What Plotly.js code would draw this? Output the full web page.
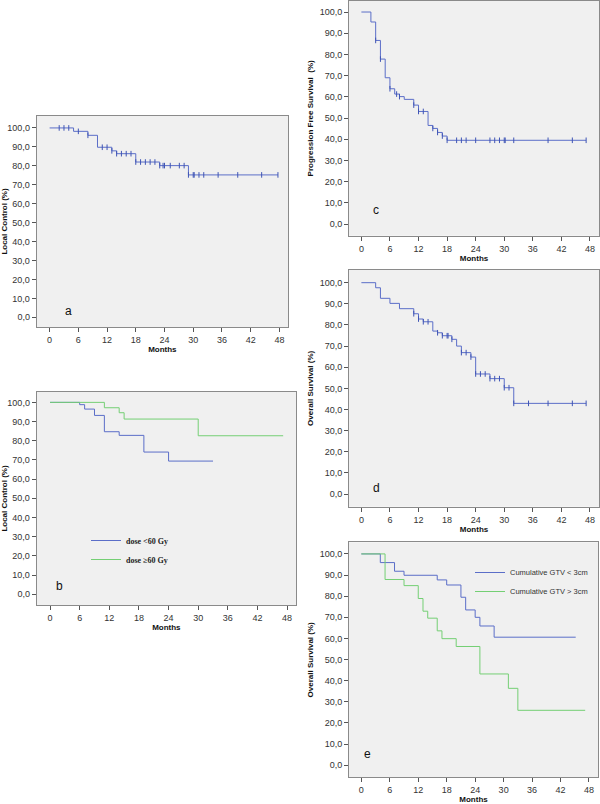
<!DOCTYPE html>
<html>
<head>
<meta charset="utf-8">
<script src="https://cdn.plot.ly/plotly-3.0.1.min.js"></script>
<style>html,body{margin:0;padding:0;background:#fff;overflow:hidden;}#chart{width:600px;height:804px;}</style>
</head>
<body>
<div id="chart"></div>
<script>
// ---- Data ----
var monthTicks = [0, 6, 12, 18, 24, 30, 36, 42, 48];
var pctTicks = [0, 10, 20, 30, 40, 50, 60, 70, 80, 90, 100];

// Panel a: Local control
var aTimes = [0, 5, 8, 10, 13, 14, 18, 23, 29, 47.7];
var aSurv  = [100, 98.2, 96.1, 89.8, 87.9, 86.4, 82.0, 80.1, 75.2, 75.2];
var aCens  = [2, 3, 4, 6, 8, 11, 12, 13, 14, 15, 16, 17, 18, 19, 20, 21, 22, 23, 23.7, 24, 25.2, 27.1, 28.1, 29, 30, 30.2, 31.2, 32.2, 35.2, 39.3, 44.3, 47.7];

// Panel b: Local control by dose
var bLowTimes  = [0, 6, 7, 9, 11, 14, 19, 24, 33];
var bLowSurv   = [100, 98.8, 96.5, 93.2, 84.7, 82.8, 74.1, 69.4, 69.4];
var bHighTimes = [0, 11, 14, 15, 30, 47.2];
var bHighSurv  = [100, 97.2, 94.6, 91.3, 82.6, 82.6];

// Panel c: Progression free survival
var cTimes = [0, 2, 3, 4, 5, 6, 7, 8, 9, 11, 12, 14, 15, 16, 17, 18, 47.2];
var cSurv  = [100, 95.3, 86.6, 77.8, 69.0, 63.8, 61.3, 60.1, 58.8, 56.1, 53.1, 46.5, 45.1, 43.2, 41.5, 39.5, 39.5];
var cCens  = [3, 4, 6, 7.4, 8, 11, 12, 13, 15, 16, 17, 18, 20, 21, 22, 24, 27, 28, 29, 30, 30.2, 32, 39.2, 44.3, 47.2];

// Panel d: Overall survival
var dTimes = [0, 3, 4, 6, 8, 11, 12, 13, 15, 16, 17, 19, 20, 21, 23, 24, 27, 30, 32, 47.2];
var dSurv  = [100, 97.6, 92.6, 90.2, 87.7, 85.3, 82.8, 81.5, 77.1, 76.3, 74.9, 73.2, 70.0, 66.9, 64.8, 56.8, 54.6, 50.3, 42.9, 42.9];
var dCens  = [11, 12, 13, 14, 16, 17, 18, 18.2, 19, 21, 22, 23, 24, 25, 26, 27, 28, 29, 30, 31, 32, 35.1, 39.2, 44.3, 47.2];

// Panel e: Overall survival by cumulative GTV
var eLowTimes  = [0, 4, 7, 9, 16, 18, 21, 22, 24, 25, 28, 45.2];
var eLowSurv   = [100, 95.9, 91.8, 89.9, 87.7, 85.3, 79.5, 73.5, 70.0, 65.9, 60.6, 60.6];
var eHighTimes = [0, 5, 9, 12, 13, 14, 16, 17, 20, 25, 31, 33, 47.2];
var eHighSurv  = [100, 87.9, 85.0, 78.9, 72.9, 69.6, 63.6, 59.9, 56.2, 43.2, 36.4, 26.0, 26.0];

var seriesNames = {
  bLow: 'dose <60 Gy', bHigh: 'dose \u226560 Gy',
  eLow: 'Cumulative GTV < 3cm', eHigh: 'Cumulative GTV > 3cm'
};

// ---- Styling ----
var BLUE = '#5b6ec8', BLUE_DARK = '#3f55b5', GREEN = '#74cf74';
var tickFont = {family: 'Liberation Sans Narrow, Arial Narrow, Liberation Sans, Arial', size: 9, color: '#333'};
var titleFont = {family: 'Liberation Sans, Arial', size: 8, color: '#111', weight: 'bold'};

function stepAt(times, surv, t) {
  var v = surv[0];
  for (var i = 0; i < times.length; i++) { if (times[i] <= t) v = surv[i]; }
  return v;
}
function stepTrace(times, surv, color, xa, ya, name, legend) {
  var tr = {x: times, y: surv, type: 'scatter', mode: 'lines', line: {shape: 'hv', color: color, width: 1},
            xaxis: xa, yaxis: ya, hoverinfo: 'skip', showlegend: !!name};
  if (name) { tr.name = name; tr.legend = legend; }
  return tr;
}
function censTrace(times, surv, cens, xa, ya) {
  return {x: cens, y: cens.map(function (t) { return stepAt(times, surv, t); }), type: 'scatter', mode: 'markers',
          marker: {symbol: 'line-ns', size: 4, color: BLUE_DARK, line: {color: BLUE_DARK, width: 1}},
          xaxis: xa, yaxis: ya, hoverinfo: 'skip', showlegend: false};
}

var data = [
  stepTrace(aTimes, aSurv, BLUE, 'x', 'y'), censTrace(aTimes, aSurv, aCens, 'x', 'y'),
  stepTrace(bLowTimes, bLowSurv, BLUE, 'x2', 'y2', seriesNames.bLow, 'legend'),
  stepTrace(bHighTimes, bHighSurv, GREEN, 'x2', 'y2', seriesNames.bHigh, 'legend'),
  stepTrace(cTimes, cSurv, BLUE, 'x3', 'y3'), censTrace(cTimes, cSurv, cCens, 'x3', 'y3'),
  stepTrace(dTimes, dSurv, BLUE, 'x4', 'y4'), censTrace(dTimes, dSurv, dCens, 'x4', 'y4'),
  stepTrace(eLowTimes, eLowSurv, BLUE, 'x5', 'y5', seriesNames.eLow, 'legend2'),
  stepTrace(eHighTimes, eHighSurv, GREEN, 'x5', 'y5', seriesNames.eHigh, 'legend2')
];

function xAxis(domain, range, anchor) {
  return {domain: domain, range: range, anchor: anchor, tickvals: monthTicks, ticks: 'outside', ticklen: 4,
          tickcolor: '#555', tickfont: tickFont, showline: true, mirror: true, linecolor: '#8a8a8a', linewidth: 1,
          showgrid: false, zeroline: false, fixedrange: true,
          title: {text: 'Months', font: titleFont, standoff: 2}};
}
function yAxis(domain, range, anchor, title) {
  return {domain: domain, range: range, anchor: anchor, tickvals: pctTicks, tickformat: '.1f', ticks: 'outside', ticklen: 4,
          tickcolor: '#555', tickfont: tickFont, showline: true, mirror: true, linecolor: '#8a8a8a', linewidth: 1,
          showgrid: false, zeroline: false, fixedrange: true,
          title: {text: title, font: titleFont, standoff: 4}};
}

var W = 600, H = 804;
function dx(a, b) { return [a / W, b / W]; }
function dy(top, bottom) { return [1 - bottom / H, 1 - top / H]; }

var labelFont = {family: 'Liberation Sans, Arial', size: 12, color: '#111'};
var layout = {
  width: W, height: H, margin: {l: 0, r: 0, t: 0, b: 0},
  paper_bgcolor: '#ffffff', plot_bgcolor: '#f0f0f0',
  separators: ',.',
  font: {family: 'Liberation Sans, Arial', color: '#333'},
  xaxis:  xAxis(dx(36.7, 288), [-2.7, 49.8], 'y'),
  yaxis:  yAxis(dy(116, 327), [-5.1, 106.3], 'x', 'Local Control (%)'),
  xaxis2: xAxis(dx(36.7, 296), [-2.7, 49.8], 'y2'),
  yaxis2: yAxis(dy(392, 605), [-5.6, 105.4], 'x2', 'Local Control (%)'),
  xaxis3: xAxis(dx(349, 599), [-2.6, 49.9], 'y3'),
  yaxis3: yAxis(dy(1, 235.7), [-5.5, 105.2], 'x3', 'Progression Free Survival  (%)'),
  xaxis4: xAxis(dx(349, 599), [-2.6, 49.9], 'y4'),
  yaxis4: yAxis(dy(270, 506.7), [-6.0, 106.0], 'x4', 'Overall Survival (%)'),
  xaxis5: xAxis(dx(349, 598), [-2.6, 49.9], 'y5'),
  yaxis5: yAxis(dy(542.3, 777.3), [-5.7, 105.5], 'x5', 'Overall Survival (%)'),
  legend: {x: 86 / W, y: 1 - 526 / H, xanchor: 'left', yanchor: 'top', bgcolor: 'rgba(0,0,0,0)',
           itemwidth: 30, tracegroupgap: 0,
           font: {family: 'Liberation Serif, Times New Roman', size: 8, color: '#222', weight: 'bold'}},
  legend2: {x: 470 / W, y: 1 - 558 / H, xanchor: 'left', yanchor: 'top', bgcolor: 'rgba(0,0,0,0)',
            itemwidth: 30, tracegroupgap: 0,
            font: {family: 'Liberation Sans, Arial', size: 7.5, color: '#333'}},
  annotations: [
    {text: 'a', xref: 'x', yref: 'y', x: 4.0, y: 3.3, showarrow: false, font: labelFont},
    {text: 'b', xref: 'x2', yref: 'y2', x: 2.0, y: 4.3, showarrow: false, font: labelFont},
    {text: 'c', xref: 'x3', yref: 'y3', x: 3.1, y: 6.6, showarrow: false, font: labelFont},
    {text: 'd', xref: 'x4', yref: 'y4', x: 3.1, y: 2.8, showarrow: false, font: labelFont},
    {text: 'e', xref: 'x5', yref: 'y5', x: 1.3, y: 5.2, showarrow: false, font: labelFont}
  ]
};

Plotly.newPlot('chart', data, layout, {staticPlot: true, displayModeBar: false});
</script>
</body>
</html>
